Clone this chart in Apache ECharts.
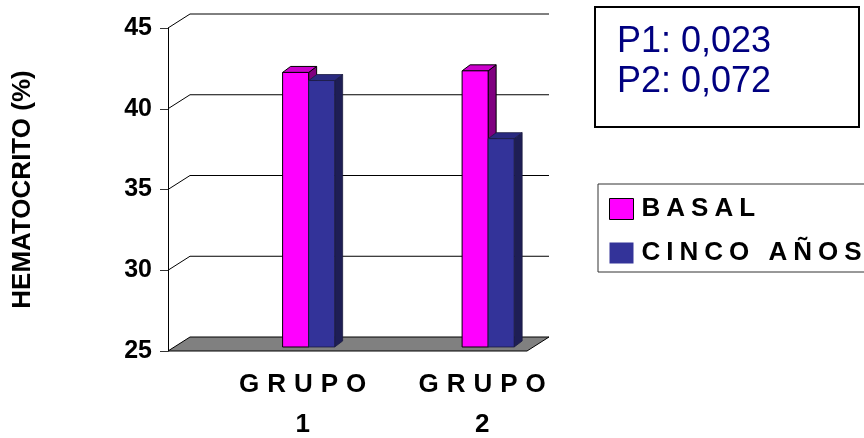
<!DOCTYPE html>
<html>
<head>
<meta charset="utf-8">
<script src="https://cdn.jsdelivr.net/npm/echarts@6/dist/echarts.min.js"></script>
<style>
  html, body { margin: 0; padding: 0; background: #ffffff; }
  #chart { width: 864px; height: 438px; }
</style>
</head>
<body>
<div id="chart"></div>
<script>
// Hematocrit (%) by group, baseline vs. five years
const categories = ['GRUPO 1', 'GRUPO 2'];
const seriesNames = ['BASAL', 'CINCO AÑOS'];
const basal = [42.0, 42.1];
const cincoAnos = [41.5, 37.9];
const yTicks = [25, 30, 35, 40, 45];
const pValues = ['P1: 0,023', 'P2: 0,072'];

const FONT = '"Liberation Sans", Arial, Helvetica, sans-serif';
const X_MIN = 0.25, X_MAX = 2.25;      // category axis span (front plane)
const WALL_DEPTH = [22, -14];          // depth of the floor / back wall
const BAR_PLANE = [6, -4];             // bars stand inside the box
const BAR_DEPTH = [8, -6];             // thickness of each bar
const BAR_FRAC = 0.145;                // bar width relative to category step

const palettes = [
  { front: '#FF00FF', top: '#CC00CC', side: '#800080', stroke: '#000000', lw: 1 },
  { front: '#333399', top: '#2A2A80', side: '#1E1E55', stroke: '#1A1A40', lw: 0.8 }
];

// wrap every character in a rich token so the text gets letter spacing
function spaced(text, key) {
  return text.split('\n').map(function (line) {
    return line.split('').map(function (ch) { return '{' + key + '|' + ch + '}'; }).join('');
  }).join('\n');
}

function shift(p, d) { return [p[0] + d[0], p[1] + d[1]]; }

// floor, left-wall diagonals and back-wall gridlines
function wallRenderer(params, api) {
  const v = api.value(1);
  const a = api.coord([X_MIN, v]);
  const b = api.coord([X_MAX, v]);
  const children = [];
  if (v === yTicks[0]) {
    children.push({
      type: 'polygon',
      shape: { points: [a, b, shift(b, WALL_DEPTH), shift(a, WALL_DEPTH)] },
      style: { fill: '#808080', stroke: '#000000', lineWidth: 1 }
    });
  } else {
    children.push({
      type: 'polyline',
      shape: { points: [a, shift(a, WALL_DEPTH), shift(b, WALL_DEPTH)] },
      style: { fill: null, stroke: '#000000', lineWidth: 1 }
    });
  }
  return { type: 'group', children: children };
}

function barRenderer(seriesIndex) {
  return function (params, api) {
    const cat = api.value(0), v = api.value(1);
    const w = api.size([1, 0])[0] * BAR_FRAC;
    const p = api.coord([cat, v]);
    const base = api.coord([cat, yTicks[0]]);
    const x0 = p[0] + BAR_PLANE[0] + (seriesIndex === 0 ? -w : 0);
    const x1 = x0 + w;
    const yt = p[1] + BAR_PLANE[1];
    const yb = base[1] + BAR_PLANE[1];
    const dx = BAR_DEPTH[0], dy = BAR_DEPTH[1];
    const c = palettes[seriesIndex];
    return {
      type: 'group',
      children: [
        { type: 'polygon', shape: { points: [[x1, yt], [x1 + dx, yt + dy], [x1 + dx, yb + dy], [x1, yb]] },
          style: { fill: c.side, stroke: c.stroke, lineWidth: c.lw } },
        { type: 'polygon', shape: { points: [[x0, yt], [x1, yt], [x1 + dx, yt + dy], [x0 + dx, yt + dy]] },
          style: { fill: c.top, stroke: c.stroke, lineWidth: c.lw } },
        { type: 'rect', shape: { x: x0, y: yt, width: w, height: yb - yt },
          style: { fill: c.front, stroke: c.stroke, lineWidth: c.lw } }
      ]
    };
  };
}

const letterStyle = function (size, pad, lh) {
  return { fontSize: size, fontWeight: 'bold', fontFamily: FONT, color: '#000000', padding: [0, pad, 0, pad], lineHeight: lh };
};

const chart = echarts.init(document.getElementById('chart'), null, { renderer: 'canvas' });

chart.setOption({
  animation: false,
  backgroundColor: '#ffffff',
  grid: { left: 168, right: 337, top: 28, bottom: 87, containLabel: false },
  xAxis: {
    type: 'value',
    min: X_MIN,
    max: X_MAX,
    axisLine: { show: false },
    axisTick: { show: false },
    splitLine: { show: false },
    axisLabel: {
      customValues: categories.map(function (_, i) { return i + 1; }),
      margin: 14,
      fontSize: 26,
      fontWeight: 'bold',
      fontFamily: FONT,
      formatter: function (val) {
        return spaced(categories[Math.round(val) - 1].replace(' ', '\n'), 'g');
      },
      rich: { g: letterStyle(26, 4, 40) }
    }
  },
  yAxis: {
    type: 'value',
    min: yTicks[0],
    max: yTicks[yTicks.length - 1],
    interval: 5,
    name: 'HEMATOCRITO (%)',
    nameLocation: 'middle',
    nameRotate: 90,
    nameGap: 132,
    nameTextStyle: { fontSize: 26, fontWeight: 'bold', fontFamily: FONT, color: '#000000' },
    axisLine: { show: true, lineStyle: { color: '#000000', width: 1 } },
    axisTick: { show: true, length: 8, lineStyle: { color: '#333333', width: 1 } },
    splitLine: { show: false },
    axisLabel: { margin: 16, fontSize: 25, fontWeight: 'bold', fontFamily: FONT, color: '#000000' }
  },
  legend: {
    orient: 'vertical',
    left: 598,
    top: 184,
    padding: [12, 12, 6, 11],
    itemWidth: 24,
    itemHeight: 21,
    itemGap: 18,
    borderColor: '#333333',
    borderWidth: 1,
    selectedMode: false,
    icon: 'rect',
    data: [
      { name: seriesNames[0], itemStyle: { color: palettes[0].front, borderColor: '#000000', borderWidth: 1 } },
      { name: seriesNames[1], itemStyle: { color: palettes[1].front, borderWidth: 0 } }
    ],
    formatter: function (name) { return spaced(name, 's'); },
    textStyle: { fontSize: 26, fontWeight: 'bold', fontFamily: FONT, rich: { s: letterStyle(26, 3, 26) } }
  },
  graphic: [
    { type: 'rect', shape: { x: 595, y: 7, width: 264, height: 120 },
      style: { fill: '#ffffff', stroke: '#000000', lineWidth: 2 } },
    { type: 'text', style: { x: 617, y: 22, text: pValues.join('\n'), fontSize: 36,
      fontFamily: FONT, fill: '#000080', lineHeight: 40 } }
  ],
  series: [
    {
      type: 'custom',
      name: 'walls',
      silent: true,
      clip: false,
      z: 1,
      renderItem: wallRenderer,
      data: yTicks.map(function (v) { return [X_MIN, v]; })
    },
    {
      type: 'custom',
      name: seriesNames[0],
      clip: false,
      z: 2,
      itemStyle: { color: palettes[0].front, borderColor: '#000000', borderWidth: 1 },
      renderItem: barRenderer(0),
      data: basal.map(function (v, i) { return [i + 1, v]; })
    },
    {
      type: 'custom',
      name: seriesNames[1],
      clip: false,
      z: 3,
      itemStyle: { color: palettes[1].front },
      renderItem: barRenderer(1),
      data: cincoAnos.map(function (v, i) { return [i + 1, v]; })
    }
  ]
});
</script>
</body>
</html>
